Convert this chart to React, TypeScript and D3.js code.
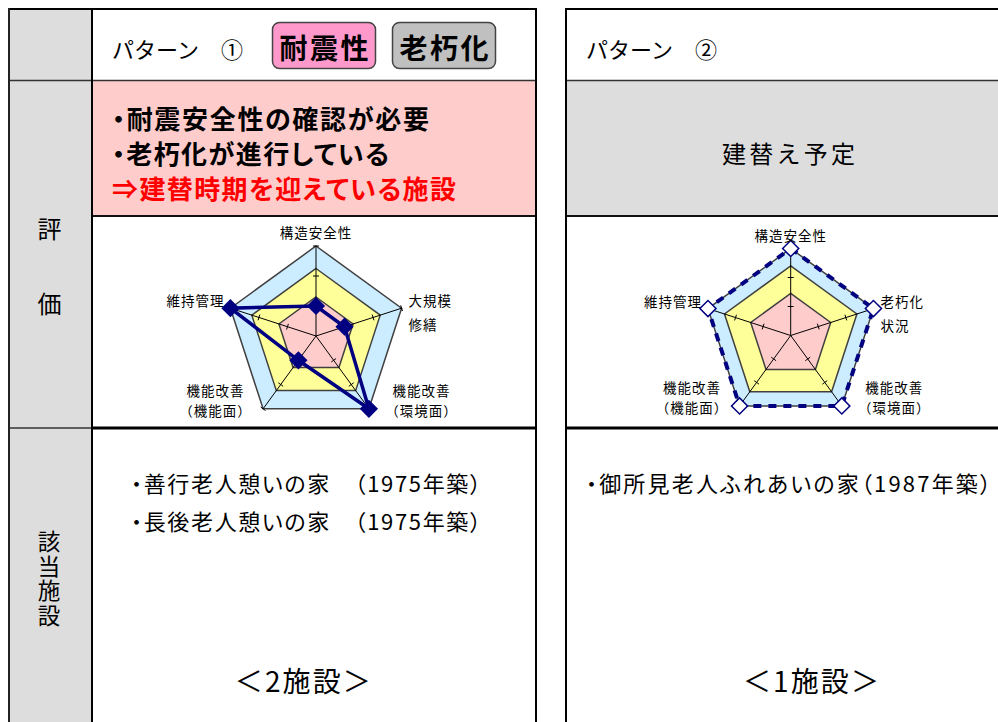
import { useRef, useEffect } from 'react';
import * as d3 from 'd3';

const FONT = '"Noto Sans CJK JP", "Noto Sans", sans-serif';
const NAVY = '#000080';
const BAND_COLORS = ['#CCECFF', '#FFFF99', '#FFCCCC'];
const TAG_COLORS = ['#FF99CC', '#C0C0C0'];

// text content
const PATTERN_TITLES = ['パターン　①', 'パターン　②'];
const TAGS_1 = ['耐震性', '老朽化'];
const EVAL_1 = ['・耐震安全性の確認が必要', '・老朽化が進行している', '⇒建替時期を迎えている施設'];
const EVAL_2 = '建替え予定';
const ROW_HEAD_EVAL = ['評', '価'];
const ROW_HEAD_FAC = '該当施設';
const FACILITIES_1 = ['・善行老人憩いの家　（1975年築）', '・長後老人憩いの家　（1975年築）'];
const FACILITIES_2 = ['・御所見老人ふれあいの家（1987年築）'];
const COUNT_1 = '＜2施設＞';
const COUNT_2 = '＜1施設＞';

// radar data (scale 0..3)
const AXES_1 = [['構造安全性'], ['大規模', '修繕'], ['機能改善', '（環境面）'], ['機能改善', '（機能面）'], ['維持管理']];
const AXES_2 = [['構造安全性'], ['老朽化', '状況'], ['機能改善', '（環境面）'], ['機能改善', '（機能面）'], ['維持管理']];
const SCORES_1 = [1, 1, 3, 1, 3];
const SCORES_2 = [3, 3, 3, 3, 3];
const BANDS_1 = [3, 2.25, 1.3];
const BANDS_2 = [3, 2.4, 1.45];
const TICKS = [1, 2, 3];

type Sel = d3.Selection<SVGGElement, unknown, null, undefined>;

function drawRadar(svg: Sel, cx: number, cy: number, radius: number, axes: string[][], scores: number[], bands: number[], dashed: boolean) {
  const n = axes.length;
  const r = d3.scaleLinear().domain([0, 3]).range([0, radius]);
  const angle = d3.scaleLinear().domain([0, n]).range([0, 2 * Math.PI]);
  const ring = d3
    .lineRadial<number>()
    .angle((_, i) => angle(i))
    .radius((v) => r(v))
    .curve(d3.curveLinearClosed);
  const pt = (i: number, v: number) => [r(v) * Math.sin(angle(i)), -r(v) * Math.cos(angle(i))];

  const g = svg.append('g').attr('transform', `translate(${cx},${cy})`);

  // background bands
  bands.forEach((b, k) => {
    g.append('path')
      .attr('d', ring(axes.map(() => b)))
      .attr('fill', BAND_COLORS[k])
      .attr('stroke', '#404040')
      .attr('stroke-width', 1.5);
  });

  // spokes + ticks
  axes.forEach((_, i) => {
    const [x, y] = pt(i, 3);
    g.append('line').attr('x1', 0).attr('y1', 0).attr('x2', x).attr('y2', y).attr('stroke', '#000').attr('stroke-width', 1);
    const a = angle(i);
    TICKS.forEach((t) => {
      const [tx, ty] = pt(i, t);
      const px = Math.cos(a) * 3;
      const py = Math.sin(a) * 3;
      g.append('line')
        .attr('x1', tx - px).attr('y1', ty - py)
        .attr('x2', tx + px).attr('y2', ty + py)
        .attr('stroke', '#000').attr('stroke-width', 1);
    });
  });

  // series
  g.append('path')
    .attr('d', ring(scores))
    .attr('fill', 'none')
    .attr('stroke', NAVY)
    .attr('stroke-width', dashed ? 4 : 3.5)
    .attr('stroke-dasharray', dashed ? '8,7' : null);

  const marker = d3.symbol(d3.symbolSquare, 130);
  g.selectAll('path.mk')
    .data(scores)
    .join('path')
    .attr('class', 'mk')
    .attr('d', marker)
    .attr('transform', (d, i) => {
      const [x, y] = pt(i, d);
      return `translate(${x},${y}) rotate(45)`;
    })
    .attr('fill', dashed ? '#fff' : NAVY)
    .attr('stroke', NAVY)
    .attr('stroke-width', 1.5);

  // labels, placed around the outer vertices
  const place = [
    { anchor: 'middle', dx: 0, dy: [-14] },
    { anchor: 'start', dx: 7, dy: [-8, 16] },
    { anchor: 'middle', dx: 52.5, dy: [-19, 1.5] },
    { anchor: 'middle', dx: -47.5, dy: [-19, 1.5] },
    { anchor: 'end', dx: -6, dy: [-8] },
  ];
  axes.forEach((lines, i) => {
    const [vx, vy] = pt(i, 3);
    const p = place[i];
    lines.forEach((s, k) => {
      g.append('text')
        .attr('x', vx + p.dx)
        .attr('y', vy + p.dy[k])
        .attr('text-anchor', p.anchor)
        .attr('dominant-baseline', 'central')
        .attr('font-family', FONT)
        .attr('font-size', 13.5)
        .attr('letter-spacing', 1)
        .attr('fill', '#000')
        .text(s);
    });
  });
}

// proportional (palt) text line stretched to a measured width
function propLine(svg: Sel, s: string, x: number, len: number, y: number, size: number, weight: string, color: string) {
  svg.append('text')
    .attr('x', x)
    .attr('y', y)
    .attr('dominant-baseline', 'central')
    .attr('font-family', FONT)
    .attr('font-size', size)
    .attr('font-weight', weight)
    .attr('fill', color)
    .style('font-feature-settings', '"palt"')
    .attr('textLength', len)
    .attr('lengthAdjust', 'spacing')
    .text(s);
}

const App = () => {
  const ref = useRef<SVGSVGElement>(null);

  useEffect(() => {
    const root = d3.select(ref.current);
    root.selectAll('*').remove();
    const svg = root.append('g') as unknown as Sel;

    // cell fills
    svg.append('rect').attr('x', 9).attr('y', 9).attr('width', 83).attr('height', 730).attr('fill', '#DDDDDD');
    svg.append('rect').attr('x', 92).attr('y', 80).attr('width', 444).attr('height', 136).attr('fill', '#FFCCCC');
    svg.append('rect').attr('x', 566).attr('y', 80).attr('width', 450).attr('height', 136).attr('fill', '#DDDDDD');

    // grid lines
    const hl = (x1: number, x2: number, y: number, w: number, c: string) =>
      svg.append('line').attr('x1', x1).attr('x2', x2).attr('y1', y).attr('y2', y).attr('stroke', c).attr('stroke-width', w);
    const vl = (x: number, y1: number, y2: number, w: number, c: string) =>
      svg.append('line').attr('x1', x).attr('x2', x).attr('y1', y1).attr('y2', y2).attr('stroke', c).attr('stroke-width', w);
    hl(8, 537, 9, 2, '#000');
    hl(565, 1000, 9, 2, '#000');
    hl(9, 536, 80.5, 1.5, '#333');
    hl(566, 1000, 80.5, 1.5, '#333');
    hl(92, 536, 216, 2, '#111');
    hl(566, 1000, 216, 2, '#111');
    hl(9, 92, 428, 1.5, '#333');
    hl(92, 536, 428, 3, '#000');
    hl(566, 1000, 428, 3, '#000');
    vl(9, 8, 740, 2, '#222');
    vl(92, 9, 740, 2, '#000');
    vl(536, 8, 740, 2, '#000');
    vl(566, 8, 740, 2, '#000');

    // header row
    [112, 586].forEach((x, i) => {
      svg.append('text')
        .attr('x', x).attr('y', 48)
        .attr('dominant-baseline', 'central')
        .attr('font-family', FONT).attr('font-size', 22)
        .attr('textLength', 131).attr('lengthAdjust', 'spacing')
        .text(PATTERN_TITLES[i]);
    });
    const tagX = [272.5, 392.5];
    TAGS_1.forEach((s, i) => {
      svg.append('rect')
        .attr('x', tagX[i]).attr('y', 22.5).attr('width', 103).attr('height', 46).attr('rx', 7)
        .attr('fill', TAG_COLORS[i]).attr('stroke', '#444').attr('stroke-width', 1.5);
      svg.append('text')
        .attr('x', tagX[i] + 51.5).attr('y', 47)
        .attr('text-anchor', 'middle').attr('dominant-baseline', 'central')
        .attr('font-family', FONT).attr('font-size', 28).attr('font-weight', 'bold')
        .attr('textLength', 89).attr('lengthAdjust', 'spacing')
        .text(s);
    });

    // evaluation row
    const evalY = [117, 152, 187];
    const evalSpan = [[112, 317], [112, 277], [112, 344]];
    EVAL_1.forEach((s, i) => {
      const [x, len] = evalSpan[i];
      propLine(svg, s, x, len, evalY[i], 26, 'bold', i === 2 ? '#FF0000' : '#000');
    });
    svg.append('text')
      .attr('x', 788.5).attr('y', 152)
      .attr('text-anchor', 'middle').attr('dominant-baseline', 'central')
      .attr('font-family', FONT).attr('font-size', 24)
      .attr('textLength', 133).attr('lengthAdjust', 'spacing')
      .text(EVAL_2);

    ROW_HEAD_EVAL.forEach((s, i) => {
      svg.append('text')
        .attr('x', 49.5).attr('y', [227, 302][i])
        .attr('text-anchor', 'middle').attr('dominant-baseline', 'central')
        .attr('font-family', FONT).attr('font-size', 24)
        .text(s);
    });

    // radar charts
    drawRadar(svg, 316, 336, 90, AXES_1, SCORES_1, BANDS_1, false);
    drawRadar(svg, 790.7, 335.5, 87, AXES_2, SCORES_2, BANDS_2, true);

    // facilities row: vertical heading
    svg.append('text')
      .attr('x', 49).attr('y', 530)
      .attr('writing-mode', 'vertical-rl')
      .attr('font-family', FONT).attr('font-size', 22.5)
      .attr('letter-spacing', 2.3)
      .text(ROW_HEAD_FAC);
    FACILITIES_1.forEach((s, i) => {
      propLine(svg, s, 131, 350, [481.7, 520][i], 22, 'normal', '#000');
    });
    FACILITIES_2.forEach((s, i) => {
      propLine(svg, s, 586, 405, 481.7 + i * 38.3, 22, 'normal', '#000');
    });
    [[COUNT_1, 302.8], [COUNT_2, 811]].forEach(([s, x]) => {
      svg.append('text')
        .attr('x', x as number).attr('y', 680)
        .attr('text-anchor', 'middle').attr('dominant-baseline', 'central')
        .attr('font-family', FONT).attr('font-size', 28)
        .attr('textLength', 136).attr('lengthAdjust', 'spacing')
        .text(s as string);
    });
  }, []);

  return (
    <svg
      ref={ref}
      width={998}
      height={722}
      style={{ position: 'absolute', left: 0, top: 0, background: '#fff' }}
    />
  );
};

export default App;
